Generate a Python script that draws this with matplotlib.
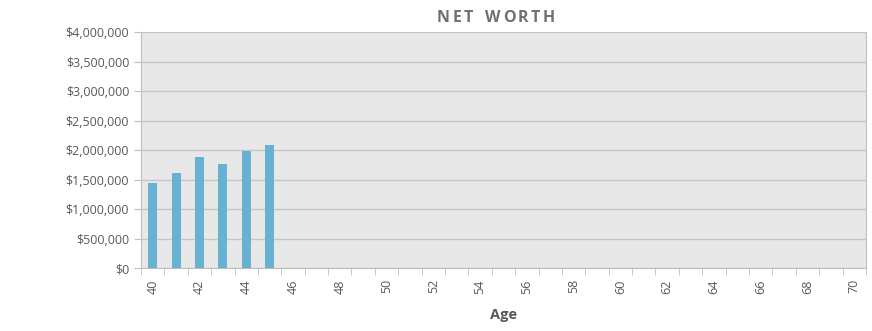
import matplotlib

matplotlib.use("Agg")
import matplotlib.pyplot as plt
import numpy as np
from matplotlib.ticker import FuncFormatter, FixedLocator

ages = list(range(40, 71))
net_worth = [1440000, 1615000, 1890000, 1770000, 1980000, 2090000]
y_ticks = [0, 500000, 1000000, 1500000, 2000000, 2500000, 3000000, 3500000, 4000000]
title = "NET WORTH"

plt.rcParams["font.family"] = ["Open Sans", "DejaVu Sans"]

fig = plt.figure(figsize=(8.72, 3.31), dpi=100)
ax = fig.add_axes([0.1617, 0.19, 0.8313, 0.713])
ax.set_facecolor("#e8e8e8")

x = np.arange(len(ages))
ax.bar(x[: len(net_worth)], net_worth, width=0.38, color="#67b1d3", zorder=3)

ax.set_xlim(-0.5, len(ages) - 0.5)
ax.set_ylim(0, 4000000)
ax.set_yticks(y_ticks)
ax.yaxis.set_major_formatter(FuncFormatter(lambda v, _: f"${v:,.0f}"))
ax.grid(axis="y", color="#c6c6c6", linewidth=1, zorder=1)

# labels every second age, tick marks between categories
ax.set_xticks(x[::2])
ax.set_xticklabels([str(a) for a in ages[::2]], rotation=90)
ax.xaxis.set_minor_locator(FixedLocator(np.arange(-0.5, len(ages), 1)))
ax.tick_params(axis="x", which="major", length=0, pad=8, labelsize=9, labelcolor="#595959")
ax.tick_params(axis="x", which="minor", length=5, color="#bfbfbf", direction="out")
ax.tick_params(axis="y", length=5, color="#bfbfbf", labelsize=9, labelcolor="#595959")

ax.spines["top"].set_visible(False)
for side in ["left", "bottom", "right"]:
    ax.spines[side].set_color("#bfbfbf")

# letter-spaced title: measure each glyph, then lay them out with extra tracking
renderer = fig.canvas.get_renderer()
tracking = 2.5  # px between letters
kw = dict(fontsize=11.5, fontweight="bold", color="#707070", va="center", ha="left")
widths = []
for ch in title:
    t = fig.text(0, 0, ch if ch != " " else "n", **kw)
    widths.append(t.get_window_extent(renderer).width * (0.6 if ch == " " else 1))
    t.remove()
total = sum(widths) + tracking * (len(title) - 1)
px = 496 - total / 2
for ch, w in zip(title, widths):
    if ch != " ":
        fig.text(px / 872, 0.945, ch, **kw)
    px += w + tracking
ax.set_xlabel("Age", fontsize=10.5, fontweight="bold", color="#595959", labelpad=10)

fig.savefig("out.png", dpi=100)
